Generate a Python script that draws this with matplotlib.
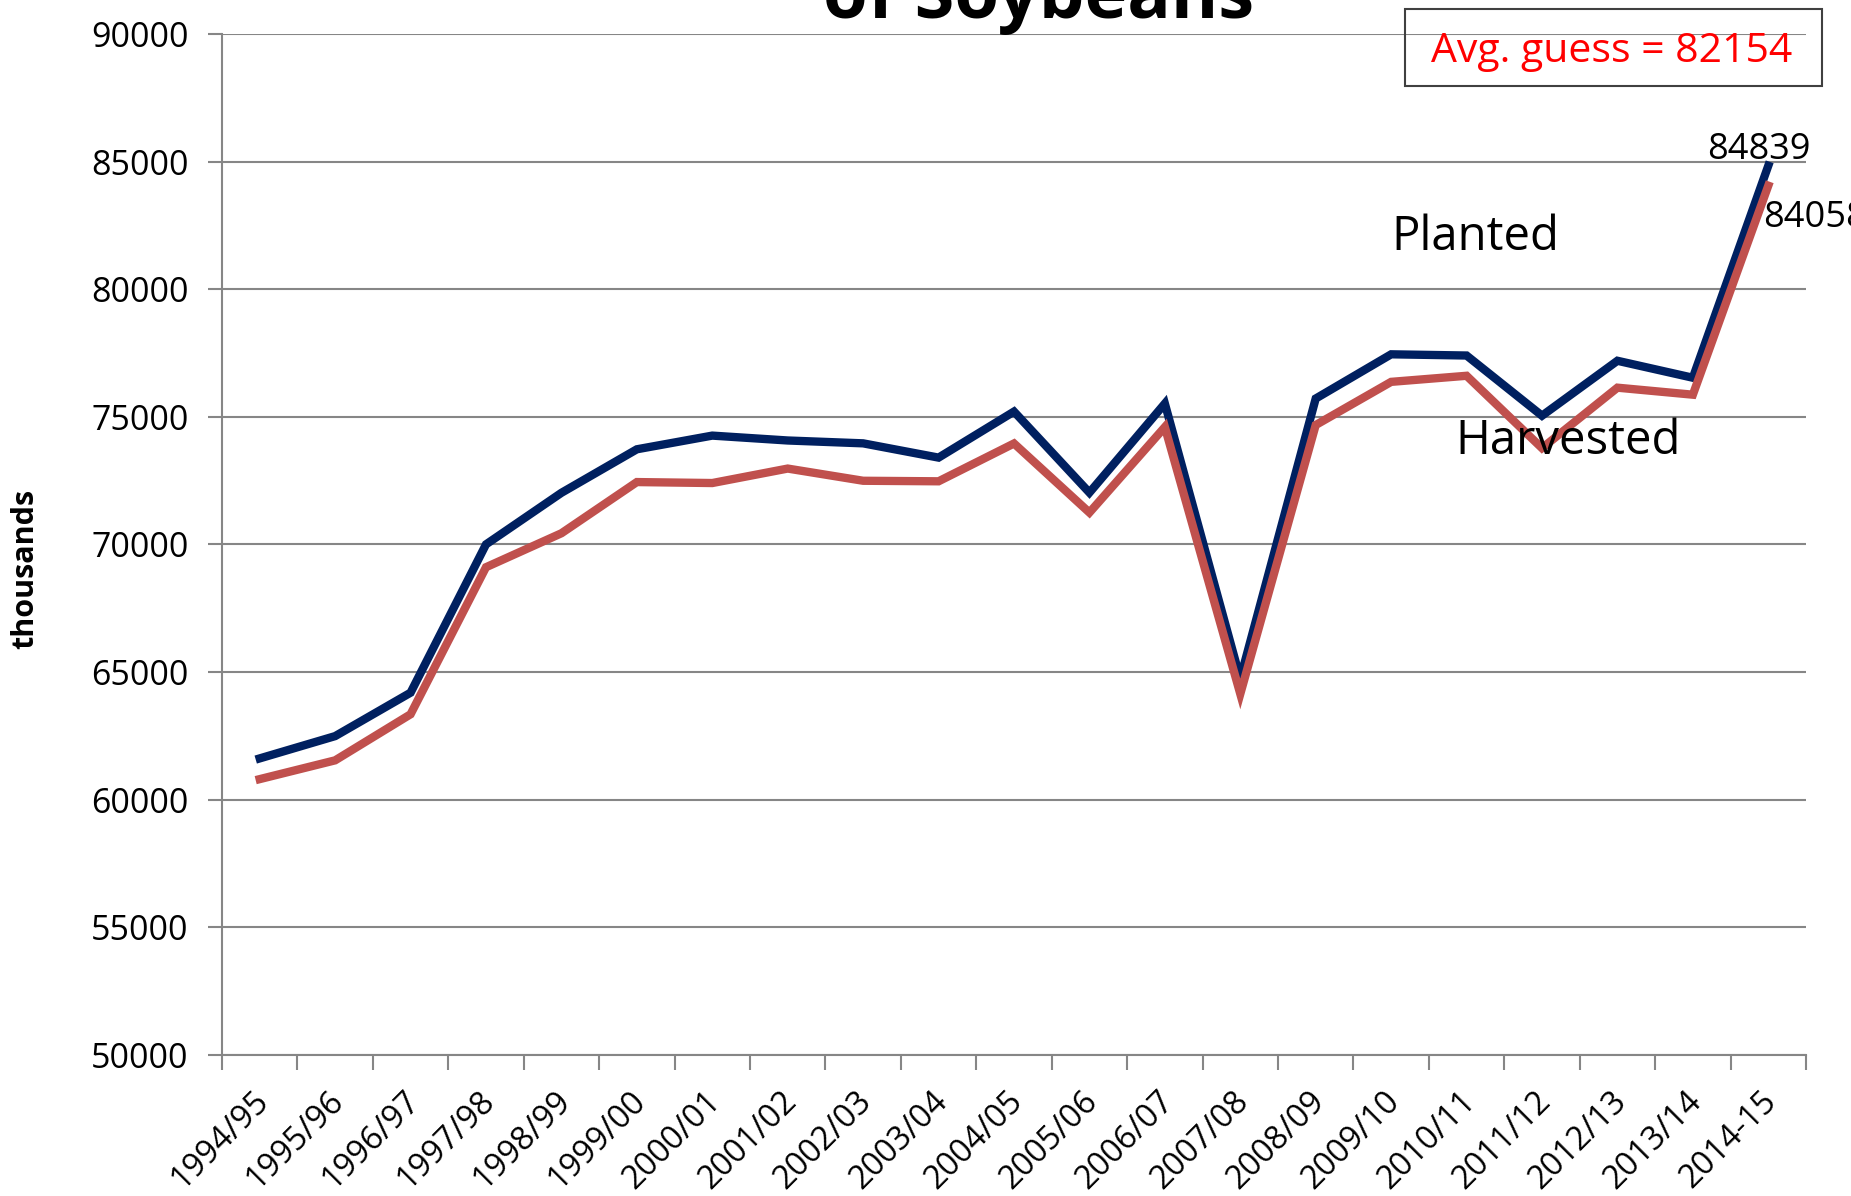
import numpy as np
import matplotlib
matplotlib.use('Agg')
import matplotlib.pyplot as plt
from matplotlib.patches import Rectangle
from matplotlib.transforms import ScaledTranslation

plt.rcParams['font.family'] = ['Open Sans', 'DejaVu Sans']

years = ['1994/95', '1995/96', '1996/97', '1997/98', '1998/99', '1999/00', '2000/01',
         '2001/02', '2002/03', '2003/04', '2004/05', '2005/06', '2006/07', '2007/08',
         '2008/09', '2009/10', '2010/11', '2011/12', '2012/13', '2013/14', '2014-15']

planted = [61620, 62493, 64195, 70005, 72025, 73730, 74266, 74075, 73963, 73404, 75208,
           72032, 75522, 64741, 75718, 77451, 77404, 75046, 77198, 76533, 84839]

harvested = [60808, 61544, 63349, 69110, 70441, 72446, 72408, 72975, 72497, 72476, 73958,
             71251, 74602, 64146, 74681, 76372, 76610, 73776, 76144, 75869, 84058]

avg_guess = 82154

navy = '#002060'
red = '#C0504D'
gray = '#868686'

fig = plt.figure(figsize=(18.51, 11.96), dpi=100)
ax = fig.add_axes([222/1851, 1 - 1055/1196, (1806-222)/1851, (1055-34)/1196])

x = np.arange(len(years))
ax.plot(x, planted, color=navy, lw=6, solid_joinstyle='miter', zorder=3)
ax.plot(x, harvested, color=red, lw=6, solid_joinstyle='miter', zorder=3)

ax.set_xlim(-0.5, len(years) - 0.5)
ax.set_ylim(50000, 90000)
ax.set_yticks(np.arange(50000, 90001, 5000))
ax.yaxis.grid(True, color=gray, lw=1.5)
ax.set_axisbelow(True)

ax.set_xticks(np.arange(-0.5, len(years), 1.0))
ax.set_xticklabels([])
ax.set_xticks(x, minor=True)
ax.set_xticklabels(years, minor=True, rotation=45, ha='right', va='center',
                   rotation_mode='anchor', fontsize=23.5)
ax.tick_params(axis='x', which='minor', length=0, pad=30)
ax.tick_params(axis='x', which='major', length=11, color=gray, width=1.5, direction='out')
ax.tick_params(axis='y', length=10, color=gray, width=1.5, labelsize=24.5, pad=14)
shift = ScaledTranslation(0.04, 0, fig.dpi_scale_trans)
for lbl in ax.get_xticklabels(minor=True):
    lbl.set_transform(lbl.get_transform() + shift)

for s in ['top', 'right']:
    ax.spines[s].set_visible(False)
for s in ['left', 'bottom']:
    ax.spines[s].set_color(gray)
    ax.spines[s].set_linewidth(1.5)

# end labels
ax.annotate(str(planted[-1]), xy=(x[-1], planted[-1]), xytext=(-7, 5),
            textcoords='offset points', ha='center', va='baseline', fontsize=26,
            annotation_clip=False)
ax.annotate(str(harvested[-1]), xy=(x[-1], harvested[-1]), xytext=(-4, -30),
            textcoords='offset points', ha='left', va='baseline', fontsize=26,
            annotation_clip=False)

ax.text(16.12, 81538, 'Planted', ha='center', va='baseline', fontsize=34)
ax.text(17.34, 73546, 'Harvested', ha='center', va='baseline', fontsize=34)

fig.text(25/1851, 1 - 569/1196, 'thousands', rotation=90, ha='center', va='center',
         fontsize=22, fontweight='bold')

fig.text(1039/1851, 1 - 18/1196, 'of Soybeans', ha='center', va='baseline',
         fontsize=52, fontweight='bold')

# guess box
fig.patches.append(Rectangle((1405/1851, 1 - 86/1196), (1822-1405)/1851, (86-9)/1196,
                             transform=fig.transFigure, fill=False, edgecolor='#404040',
                             lw=1.5, zorder=5))
fig.text(1612/1851, 1 - 62/1196, 'Avg. guess = %d' % avg_guess, ha='center', va='baseline',
         fontsize=29.5, color='red')

fig.savefig('out.png', dpi=100)
